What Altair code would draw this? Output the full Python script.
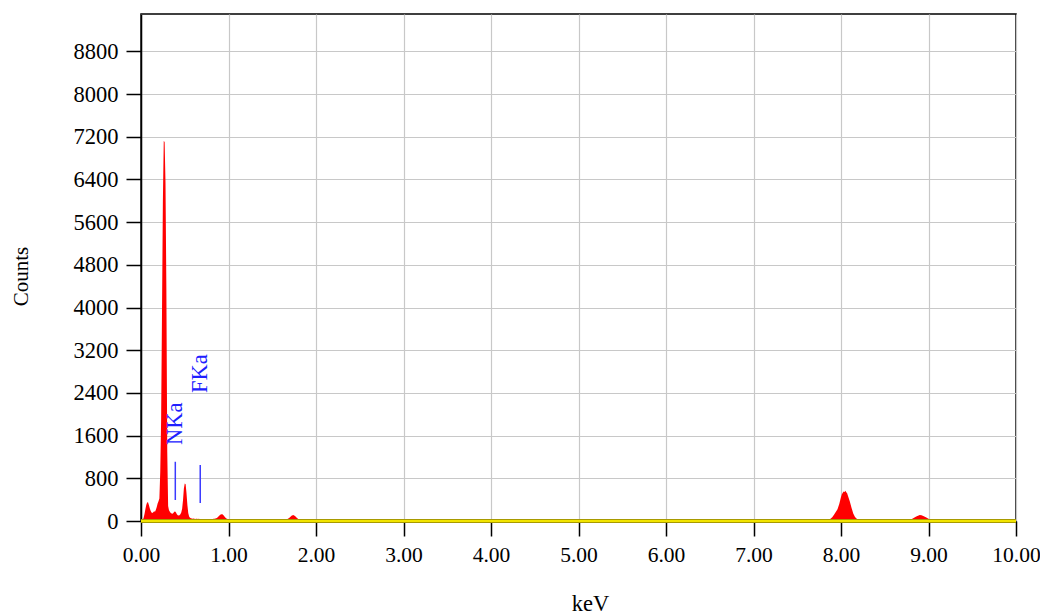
import altair as alt
import pandas as pd

# ---- data ----
# dense region 0.00 .. 1.00 keV, 10 eV channels
low_counts = [
    0, 0, 20, 60, 130, 220, 300, 345, 350, 300,
    240, 190, 160, 150, 165, 185, 175, 210, 260, 330,
    370, 420, 920, 1900, 3900, 5990, 7120, 7100, 6330, 4330,
    1300, 280, 200, 175, 150, 140, 135, 150, 175, 180,
    160, 125, 110, 105, 110, 125, 160, 230, 390, 610,
    705, 690, 520, 300, 150, 85, 60, 50, 45, 42,
    45, 40, 38, 42, 40, 38, 40, 36, 38, 35,
    36, 34, 35, 33, 35, 34, 36, 35, 34, 36,
    38, 36, 38, 40, 42, 45, 52, 62, 75, 92,
    110, 122, 128, 125, 112, 92, 72, 55, 42, 36,
    32,
]
low_energy = [round(i * 0.01, 2) for i in range(len(low_counts))]

high_energy = [
    1.05, 1.10, 1.20, 1.30, 1.40, 1.50, 1.60, 1.66, 1.68, 1.70,
    1.72, 1.74, 1.76, 1.78, 1.80, 1.84, 2.00, 2.50, 3.00, 4.00,
    5.00, 6.00, 7.00, 7.50, 7.84, 7.86, 7.88, 7.90, 7.92, 7.94,
    7.96, 7.98, 8.00, 8.01, 8.02, 8.03, 8.04, 8.05, 8.06, 8.07,
    8.08, 8.10, 8.12, 8.14, 8.16, 8.18, 8.20, 8.50, 8.76, 8.80,
    8.83, 8.86, 8.88, 8.90, 8.92, 8.94, 8.97, 9.00, 9.03, 9.08,
    9.50, 10.00,
]
high_counts = [
    30, 28, 27, 26, 26, 25, 26, 30, 40, 65,
    98, 112, 96, 60, 35, 25, 24, 22, 21, 20,
    19, 18, 18, 18, 20, 25, 40, 70, 115, 170,
    220, 320, 450, 500, 530, 555, 545, 565, 540, 520,
    470, 370, 250, 140, 75, 40, 22, 18, 18, 30,
    55, 85, 100, 112, 108, 95, 70, 42, 25, 18,
    16, 15,
]

# element markers
marker_names = ["NKa", "FKa"]
marker_energy = [0.392, 0.677]
marker_low = [394, 337]
marker_high = [1110, 1050]
marker_label_at = [1424, 2400]

x_ticks = [0, 1, 2, 3, 4, 5, 6, 7, 8, 9, 10]
y_ticks = [0, 800, 1600, 2400, 3200, 4000, 4800, 5600, 6400, 7200, 8000, 8800]

spec = pd.DataFrame({
    "keV": low_energy + high_energy,
    "Counts": low_counts + high_counts,
})
markers = pd.DataFrame({
    "name": marker_names,
    "keV": marker_energy,
    "lo": marker_low,
    "hi": marker_high,
    "lab": marker_label_at,
})

W, H = 875, 507
LEFT = 133
FONT = "Liberation Serif"
FS = 22.5
FSX = 21.5

xs = alt.Scale(domain=[0, 10], nice=False, zero=False)
ys = alt.Scale(domain=[0, 9500], nice=False)

x_axis = alt.Axis(
    values=x_ticks, format=".2f", title="keV", tickSize=15,
    labelPadding=8, labelFlush=False, labelOverlap=False, labelFontSize=FSX,
    titleX=449, titleY=82, titleBaseline="middle", titleAlign="center",
)
y_axis = alt.Axis(
    values=y_ticks, format="d", title="Counts", tickSize=15,
    labelPadding=8, labelFlush=False, labelOverlap=False,
    titleX=27 - (LEFT + 8), titleY=262, titleAngle=-90, titleFontSize=21,
    titleBaseline="alphabetic", titleAlign="center",
)

area = alt.Chart(spec).mark_area(color="#ff0000", interpolate="linear").encode(
    x=alt.X("keV:Q", scale=xs, axis=x_axis),
    y=alt.Y("Counts:Q", scale=ys, axis=y_axis),
)

base_dark = alt.Chart(spec).mark_rule(color="#a89a00", strokeWidth=4).encode(
    x=alt.value(0), x2=alt.value(W), y=alt.datum(0, scale=ys),
)
base_yellow = alt.Chart(spec).mark_rule(color="#f2e400", strokeWidth=2).encode(
    x=alt.value(0), x2=alt.value(W), y=alt.datum(0, scale=ys),
)

mark_lines = alt.Chart(markers).mark_rule(color="#3a3aff", strokeWidth=1.5).encode(
    x=alt.X("keV:Q", scale=xs),
    y=alt.Y("lo:Q", scale=ys),
    y2="hi:Q",
)
mark_text = alt.Chart(markers).mark_text(
    angle=270, align="left", baseline="middle", color="#2020ff",
    font=FONT, fontSize=FS,
).encode(
    x=alt.X("keV:Q", scale=xs),
    y=alt.Y("lab:Q", scale=ys),
    text="name:N",
)

chart = alt.layer(area, base_dark, base_yellow, mark_lines, mark_text).properties(
    width=W, height=H,
    autosize=alt.AutoSizeParams(type="none"),
    padding={"left": LEFT, "top": 6, "right": 24, "bottom": 94},
).configure_view(
    stroke="black", strokeWidth=1.5,
).configure_axis(
    labelFont=FONT, titleFont=FONT, labelFontSize=FS, titleFontSize=FS,
    labelColor="black", titleColor="black", titleFontWeight="normal",
    domainColor="black", tickColor="black", domainWidth=1.5, tickWidth=1.5,
    gridColor="#c8c8c8", gridWidth=1.2,
)

chart.save("out.html", embed_options={"renderer": "svg", "actions": False})
